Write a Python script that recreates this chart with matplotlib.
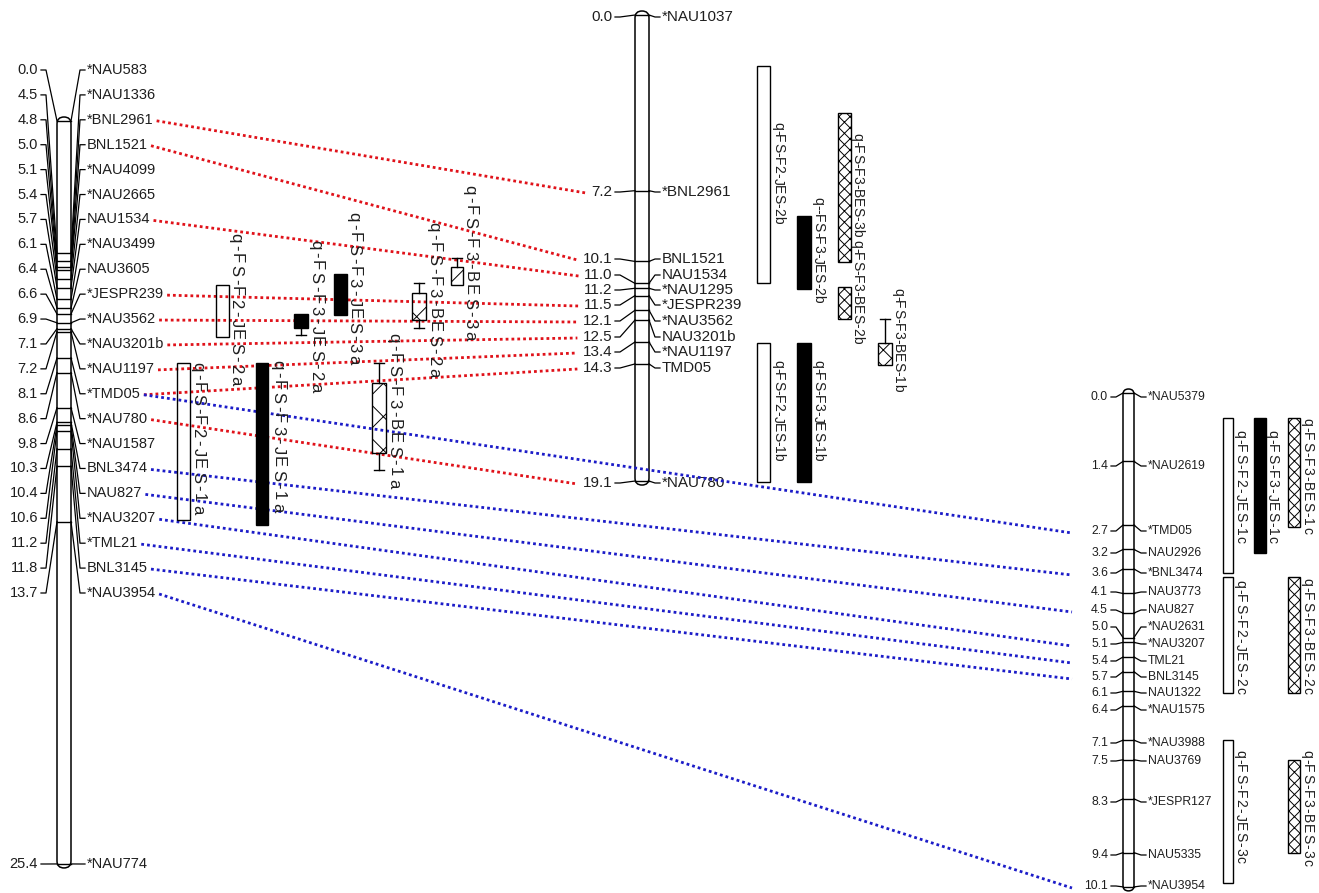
import matplotlib
matplotlib.use('Agg')
import matplotlib.pyplot as plt
from matplotlib.patches import Rectangle, FancyBboxPatch
from matplotlib.font_manager import FontProperties
from matplotlib.transforms import Affine2D
import numpy as np

FONT = ['Liberation Sans', 'DejaVu Sans']
plt.rcParams['font.family'] = FONT
plt.rcParams['hatch.linewidth'] = 0.7

# ---------------- data ----------------
left_pos = [0.0, 4.5, 4.8, 5.0, 5.1, 5.4, 5.7, 6.1, 6.4, 6.6, 6.9, 7.1, 7.2, 8.1,
            8.6, 9.8, 10.3, 10.4, 10.6, 11.2, 11.8, 13.7, 25.4]
left_names = ["*NAU583", "*NAU1336", "*BNL2961", "BNL1521", "*NAU4099", "*NAU2665",
              "NAU1534", "*NAU3499", "NAU3605", "*JESPR239", "*NAU3562", "*NAU3201b",
              "*NAU1197", "*TMD05", "*NAU780", "*NAU1587", "BNL3474", "NAU827",
              "*NAU3207", "*TML21", "BNL3145", "*NAU3954", "*NAU774"]

mid_pos = [0.0, 7.2, 10.1, 11.0, 11.2, 11.5, 12.1, 12.5, 13.4, 14.3, 19.1]
mid_names = ["*NAU1037", "*BNL2961", "BNL1521", "NAU1534", "*NAU1295", "*JESPR239",
             "*NAU3562", "NAU3201b", "*NAU1197", "TMD05", "*NAU780"]

right_pos = [0.0, 1.4, 2.7, 3.2, 3.6, 4.1, 4.5, 5.0, 5.1, 5.4, 5.7, 6.1, 6.4, 7.1,
             7.5, 8.3, 9.4, 10.1]
right_names = ["*NAU5379", "*NAU2619", "*TMD05", "NAU2926", "*BNL3474", "NAU3773",
               "NAU827", "*NAU2631", "*NAU3207", "TML21", "BNL3145", "NAU1322",
               "*NAU1575", "*NAU3988", "NAU3769", "*JESPR127", "NAU5335", "*NAU3954"]

red_links = [("*BNL2961", "*BNL2961"), ("BNL1521", "BNL1521"), ("NAU1534", "NAU1534"),
             ("*JESPR239", "*JESPR239"), ("*NAU3562", "*NAU3562"),
             ("*NAU3201b", "NAU3201b"), ("*NAU1197", "*NAU1197"), ("*TMD05", "TMD05"),
             ("*NAU780", "*NAU780")]
blue_links = [("*TMD05", "*TMD05"), ("BNL3474", "*BNL3474"), ("NAU827", "NAU827"),
              ("*NAU3207", "*NAU3207"), ("*TML21", "TML21"), ("BNL3145", "BNL3145"),
              ("*NAU3954", "*NAU3954")]

# QTL intervals (cM) ; kind: F2 = open, F3J = black, F3B = hatched
left_qtl_names = ["q-FS-F2-JES-2a", "q-FS-F3-JES-2a", "q-FS-F3-JES-3a", "q-FS-F3-BES-2a",
                  "q-FS-F3-BES-3a", "q-FS-F2-JES-1a", "q-FS-F3-JES-1a", "q-FS-F3-BES-1a"]
left_qtl_kind = ["F2", "F3J", "F3J", "F3B", "F3B", "F2", "F3J", "F3B"]
left_qtl_start = [5.61, 6.60, 5.23, 5.88, 4.99, 8.27, 8.27, 8.96]
left_qtl_end = [7.38, 7.08, 6.63, 6.80, 5.61, 13.64, 13.81, 11.35]
left_qtl_wlo = [np.nan, np.nan, np.nan, 5.54, 4.68, np.nan, np.nan, 8.27]
left_qtl_whi = [np.nan, 7.32, np.nan, 7.08, np.nan, np.nan, np.nan, 11.93]

mid_qtl_names = ["q-FS-F2-JES-2b", "q--FS-F3-JES-2b", "q-FS-F3-BES-3b", "q-FS-F3-BES-2b",
                 "q-FS-F3-BES-1b", "q-FS-F2-JES-1b", "q-FS-F3-JES-1b"]
mid_qtl_kind = ["F2", "F3J", "F3B", "F3B", "F3B", "F2", "F3J"]
mid_qtl_start = [2.09, 8.24, 4.02, 11.15, 13.44, 13.44, 13.44]
mid_qtl_end = [10.98, 11.23, 10.12, 12.46, 14.34, 19.14, 19.14]
mid_qtl_wlo = [np.nan, np.nan, np.nan, np.nan, 12.46, np.nan, np.nan]
mid_qtl_whi = [np.nan] * 7

right_qtl_names = ["q-FS-F2-JES-1c", "q-FS-F3-JES-1c", "q-FS-F3-BES-1c", "q-FS-F2-JES-2c",
                   "q-FS-F3-BES-2c", "q-FS-F2-JES-3c", "q-FS-F3-BES-3c"]
right_qtl_kind = ["F2", "F3J", "F3B", "F2", "F3B", "F2", "F3B"]
right_qtl_start = [0.51, 0.51, 0.51, 3.76, 3.76, 7.10, 7.51]
right_qtl_end = [3.68, 3.27, 2.74, 6.13, 6.13, 10.02, 9.41]
right_qtl_wlo = [np.nan] * 7
right_qtl_whi = [np.nan] * 7

# ---------------- layout ----------------
W, H = 1319, 893
fig = plt.figure(figsize=(W / 100, H / 100), dpi=100)
ax = fig.add_axes([0, 0, 1, 1])
ax.set_xlim(0, W)
ax.set_ylim(H, 0)
ax.axis('off')
renderer = fig.canvas.get_renderer()

chroms = {
    'L': dict(y0=121, k=29.25, bx=57, bw=14, num_r=38, name_l=87, size=10.5,
              pos=left_pos, names=left_names,
              ly=list(np.linspace(70, 593, 22)) + [864]),
    'M': dict(y0=15, k=24.4, bx=635, bw=14, num_r=612, name_l=662, size=11,
              pos=mid_pos, names=mid_names,
              ly=[17, 192, 259, 275, 290, 305, 321, 337, 352, 368, 483]),
    'R': dict(y0=393, k=48.9, bx=1123, bw=11, num_r=1108, name_l=1148, size=8.8,
              pos=right_pos, names=right_names,
              ly=[397, 466, 531, 553, 573, 592, 610, 627, 644, 661, 677, 693, 710,
                  743, 761, 802, 855, 886]),
}
for c in chroms.values():
    c['tr'] = Affine2D().scale(1, c['k']).translate(0, c['y0'])


def cm2px(c, v):
    return c['tr'].transform((0, v))[1]


TXT = '#1e1e1e'
name_ext = {}
num_ext = {}
inv = ax.transData.inverted()
for key, c in chroms.items():
    bx, bw = c['bx'], c['bw']
    top = cm2px(c, c['pos'][0]) - 4
    bot = cm2px(c, c['pos'][-1]) + 4
    ax.add_patch(FancyBboxPatch((bx, top), bw, bot - top,
                                boxstyle=f"round,pad=0,rounding_size={bw / 2}",
                                fc='none', ec='black', lw=1.1, zorder=3))
    for p, nm, ly in zip(c['pos'], c['names'], c['ly']):
        cy = cm2px(c, p)
        ax.plot([bx, bx + bw], [cy, cy], color='black', lw=1.0, zorder=3)
        xl0 = c['num_r'] + 3
        xr1 = c['name_l'] - 2
        ax.plot([xl0, xl0 + 5, bx], [ly, ly, cy], color='black', lw=0.9, zorder=2)
        ax.plot([bx + bw, xr1 - 5, xr1], [cy, ly, ly], color='black', lw=0.9, zorder=2)
        tn = ax.text(c['num_r'], ly, f"{p:.1f}", ha='right', va='center',
                     fontsize=c['size'], color=TXT)
        tm = ax.text(c['name_l'], ly, nm, ha='left', va='center',
                     fontsize=c['size'], color=TXT)
        e = tm.get_window_extent(renderer)
        name_ext[(key, nm)] = (inv.transform((e.x1, 0))[0], ly)
        e2 = tn.get_window_extent(renderer)
        num_ext[(key, nm)] = (inv.transform((e2.x0, 0))[0], ly)

# connecting dotted lines
for ln, mn in red_links:
    x0, y0 = name_ext[('L', ln)]
    x1, y1 = num_ext[('M', mn)]
    ax.plot([x0 + 3, x1 - 5], [y0 + 1, y1 + 1], color='#e0121a', lw=2.0,
            ls=(0, (1, 1.1)), zorder=3.5)
for ln, rn in blue_links:
    x0, y0 = name_ext[('L', ln)]
    x1, y1 = num_ext[('R', rn)]
    ax.plot([x0 + 3, 1072], [y0 + 1, y1 + 2], color='#1c1cc8', lw=2.0,
            ls=(0, (1, 1.1)), zorder=3.5)


def vlabel(x, ytop, s, size, track):
    prop = FontProperties(family=FONT, size=size)
    y = ytop
    for ch in s:
        w, h, d = renderer.get_text_width_height_descent(ch, prop, ismath=False)
        ax.text(x, y, ch, rotation=270, rotation_mode='anchor', ha='left',
                va='center', fontproperties=prop, color=TXT, zorder=5)
        y += w + track


def draw_qtls(c, names, kinds, starts, ends, wlo, whi, xs, ws, hatches,
              lab_x, lab_top, size, track):
    for i in range(len(names)):
        y0 = cm2px(c, starts[i])
        y1 = cm2px(c, ends[i])
        kind = kinds[i]
        if kind == 'F2':
            fc, hatch = 'none', None
        elif kind == 'F3J':
            fc, hatch = 'black', None
        else:
            fc, hatch = 'none', hatches[i]
        ax.add_patch(Rectangle((xs[i], y0), ws[i], y1 - y0, fc=fc, ec='black',
                               lw=1.0, hatch=hatch, zorder=4))
        xc = xs[i] + ws[i] / 2
        if not np.isnan(wlo[i]):
            wy = cm2px(c, wlo[i])
            ax.plot([xc, xc], [wy, y0], color='black', lw=1.0, zorder=4)
            ax.plot([xc - 5, xc + 5], [wy, wy], color='black', lw=1.0, zorder=4)
        if not np.isnan(whi[i]):
            wy = cm2px(c, whi[i])
            ax.plot([xc, xc], [y1, wy], color='black', lw=1.0, zorder=4)
            ax.plot([xc - 5, xc + 5], [wy, wy], color='black', lw=1.0, zorder=4)
        vlabel(lab_x[i], lab_top[i], names[i], size, track)


draw_qtls(chroms['L'], left_qtl_names, left_qtl_kind, left_qtl_start, left_qtl_end,
          left_qtl_wlo, left_qtl_whi,
          xs=[216, 294, 334, 412, 451, 177, 256, 372],
          ws=[13, 14, 13, 14, 12, 13, 12, 14],
          hatches=[None, None, None, 'x', 'x', None, None, 'x'],
          lab_x=[236, 316, 354, 434, 470, 198, 278, 394],
          lab_top=[233, 240, 212, 222, 185, 362, 360, 333], size=12, track=2.4)

draw_qtls(chroms['M'], mid_qtl_names, mid_qtl_kind, mid_qtl_start, mid_qtl_end,
          mid_qtl_wlo, mid_qtl_whi,
          xs=[757, 797, 838, 838, 878, 757, 797],
          ws=[13, 14, 13, 13, 14, 13, 14],
          hatches=[None, None, 'xxx', 'xxx', 'xx', None, None],
          lab_x=[778, 818, 857, 857, 898, 778, 818],
          lab_top=[122, 197, 133, 240, 288, 360, 360], size=10, track=0.0)

draw_qtls(chroms['R'], right_qtl_names, right_qtl_kind, right_qtl_start, right_qtl_end,
          right_qtl_wlo, right_qtl_whi,
          xs=[1223, 1254, 1288, 1223, 1288, 1223, 1288],
          ws=[10, 12, 12, 10, 12, 10, 12],
          hatches=[None, None, 'xxx', None, 'xxx', None, 'xxx'],
          lab_x=[1240, 1272, 1307, 1240, 1307, 1240, 1307],
          lab_top=[430, 430, 418, 580, 578, 750, 750], size=10, track=1.0)

fig.savefig('out.png', dpi=100)
